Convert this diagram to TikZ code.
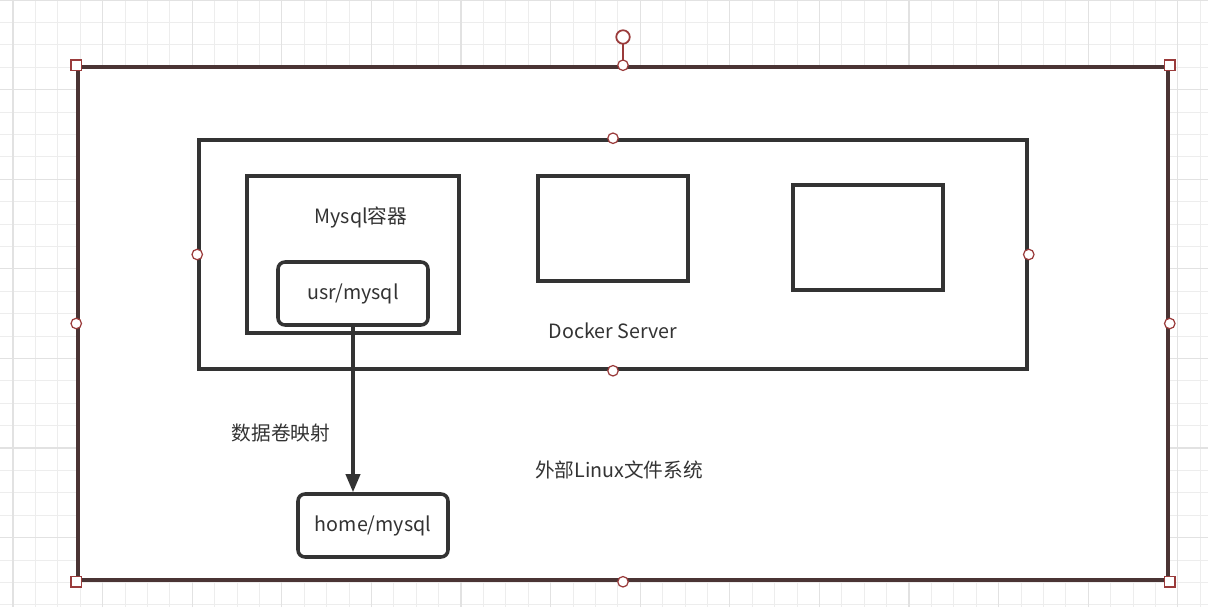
\documentclass[tikz,border=0pt]{standalone}
\usepackage{fontspec}
\setmainfont{Noto Sans CJK SC}
\usetikzlibrary{arrows.meta}
\definecolor{rejillaMenor}{HTML}{ededed}
\definecolor{rejillaMayor}{HTML}{e2e2e2}
\definecolor{marcoBorde}{HTML}{4a3434}
\definecolor{asaBorde}{HTML}{9a3b3b}
\definecolor{cajaBorde}{HTML}{333333}
\definecolor{textoGris}{HTML}{333333}

\begin{document}
\begin{tikzpicture}[
  caja/.style={draw=cajaBorde, line width=2pt, fill=white, inner sep=0pt},
  cajaRedonda/.style={caja, rounded corners=4pt},
  etiqueta/.style={font=\fontsize{11.2}{13}\selectfont, text=textoGris, inner sep=0pt},
  asaCuadro/.style={draw=asaBorde, line width=0.7pt, fill=white, minimum size=0.21cm, inner sep=0pt},
  asaCirculo/.style={draw=asaBorde, line width=0.7pt, fill=white, circle, minimum size=0.21cm, inner sep=0pt},
]
  % Fondo con rejilla
  \useasboundingbox (0,0) rectangle (24.16,12.14);
  \fill[white] (0,0) rectangle (24.16,12.14);
  \foreach \i in {-1,...,54} {
    \draw[rejillaMenor, line width=0.5pt] (0.26+\i*0.448,0) -- ++(0,12.14);
  }
  \foreach \j in {0,...,27} {
    \draw[rejillaMenor, line width=0.5pt] (0,12.14-\j*0.448) -- ++(24.16,0);
  }
  \foreach \i in {0,...,13} {
    \draw[rejillaMayor, line width=0.6pt] (0.26+\i*1.792,0) -- ++(0,12.14);
  }
  \foreach \j in {0,...,6} {
    \draw[rejillaMayor, line width=0.6pt] (0,12.14-\j*1.792) -- ++(24.16,0);
  }

  % Sistema Linux externo (seleccionado)
  \node[caja, draw=marcoBorde, minimum width=21.80cm, minimum height=10.26cm] (host) at (12.46,5.67) {};
  \node[etiqueta] (hostTxt) at (12.38,2.74) {外部Linux文件系统};

  % Docker Server
  \node[caja, minimum width=16.56cm, minimum height=4.58cm] (docker) at (12.26,7.05) {};
  \node[etiqueta] (dockerTxt) at (12.26,5.52) {Docker Server};

  % Contenedores
  \node[caja, minimum width=4.24cm, minimum height=3.14cm] (mysqlBox) at (7.06,7.05) {};
  \node[etiqueta] (mysqlTxt) at (7.22,7.80) {Mysql容器};
  \node[cajaRedonda, minimum width=3.0cm, minimum height=1.26cm, etiqueta] (usr) at (7.06,6.27) {usr/mysql};
  \node[caja, minimum width=3.0cm, minimum height=2.10cm] (cont2) at (12.26,7.57) {};
  \node[caja, minimum width=3.0cm, minimum height=2.10cm] (cont3) at (17.36,7.39) {};

  % Volumen en el host
  \node[cajaRedonda, minimum width=3.0cm, minimum height=1.26cm, etiqueta] (home) at (7.46,1.63) {home/mysql};
  \draw[cajaBorde, line width=2pt, -{Triangle[length=0.36cm,width=0.28cm]}]
    (usr.south) -- (usr.south |- home.north);
  \node[etiqueta] (mapeo) at (5.62,3.48) {数据卷映射};

  % Asas de seleccion
  \draw[asaBorde, line width=0.8pt] (host.north) -- ++(0,0.5);
  \node[asaCirculo, minimum size=0.27cm, line width=1pt] (rotar) at (12.46,11.40) {};
  \foreach \a in {north west, north east, south west, south east} {
    \node[asaCuadro] at (host.\a) {};
  }
  \foreach \a in {north, south, east, west} {
    \node[asaCirculo] at (host.\a) {};
    \node[asaCirculo] at (docker.\a) {};
  }
\end{tikzpicture}
\end{document}
